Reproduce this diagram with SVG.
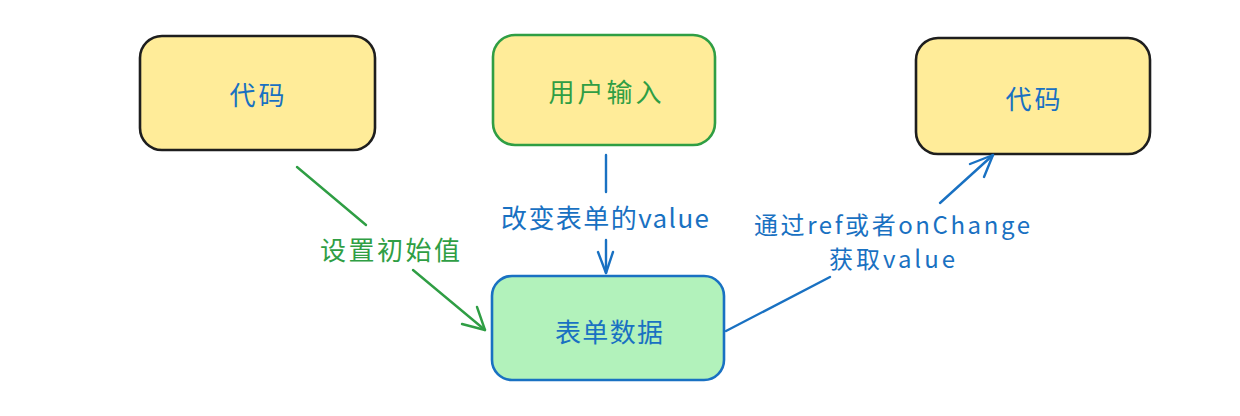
<svg xmlns="http://www.w3.org/2000/svg" width="1240" height="416" viewBox="0 0 1240 416">
<style>
.t{font-family:"Noto Sans CJK SC","Noto Sans",sans-serif;font-size:26px;text-anchor:middle;dominant-baseline:central}
.s{font-size:24px}
.blue{fill:#1971c2}
.green{fill:#2f9e44}
.box{stroke-width:2.6}
.ln{fill:none;stroke-width:2.4;stroke-linecap:round;stroke-linejoin:round}
</style>
<rect width="1240" height="416" fill="#ffffff"/>
<g id="node-code-left">
<rect class="box" x="140" y="36" width="235" height="114" rx="22" fill="#ffec99" stroke="#1e1e1e"/>
<text class="t blue" x="257" y="93" textLength="55">代码</text>
</g>
<g id="node-user-input">
<rect class="box" x="493" y="35" width="222" height="110" rx="22" fill="#ffec99" stroke="#2f9e44"/>
<text class="t green" x="605" y="90" textLength="113">用户输入</text>
</g>
<g id="node-code-right">
<rect class="box" x="916" y="38" width="234" height="116" rx="22" fill="#ffec99" stroke="#1e1e1e"/>
<text class="t blue" x="1033" y="97" textLength="55">代码</text>
</g>
<g id="node-form-data">
<rect class="box" x="492" y="276" width="232" height="104" rx="20" fill="#b2f2bb" stroke="#1971c2"/>
<text class="t blue" x="609" y="330" textLength="108">表单数据</text>
</g>
<g id="connectors">
<path class="ln" stroke="#2f9e44" d="M297,167 L366,225"/>
<path class="ln" stroke="#2f9e44" d="M413,270 L485,330"/>
<path class="ln" stroke="#2f9e44" d="M462,324 L485,330 L477,307"/>
<text class="t green" x="390" y="248" textLength="140">设置初始值</text>
<path class="ln" stroke="#1971c2" d="M606,155 L606,192"/>
<path class="ln" stroke="#1971c2" d="M606,240 L606,273"/>
<path class="ln" stroke="#1971c2" d="M598,252 L606,273 L613,252"/>
<text class="t blue" x="605" y="216" textLength="208">改变表单的value</text>
<path class="ln" stroke="#1971c2" d="M726,331 L830,277"/>
<path class="ln" stroke="#1971c2" d="M940,203 L993,155"/>
<path class="ln" stroke="#1971c2" d="M970,164 L993,155 L984,177"/>
<text class="t s blue" x="892" y="223" textLength="276">通过ref或者onChange</text>
<text class="t s blue" x="892" y="257" textLength="126">获取value</text>
</g>
</svg>
